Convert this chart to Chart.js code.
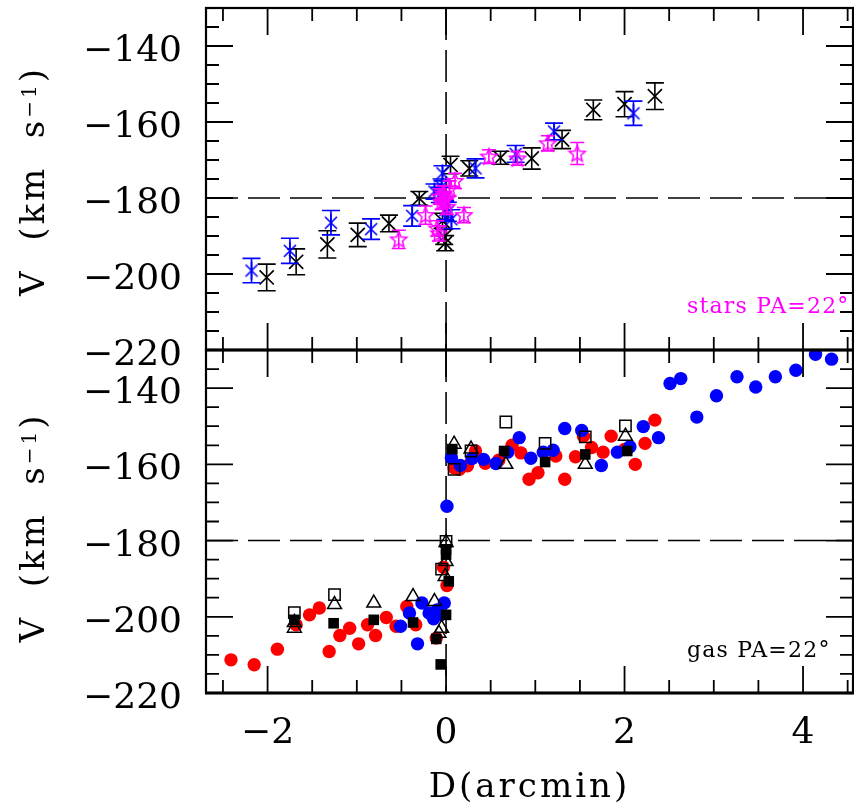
<!DOCTYPE html>
<html lang="en">
<head>
<meta charset="UTF-8">
<title>Velocity profiles PA=22</title>
<script src="https://cdn.jsdelivr.net/npm/chart.js"></script>
<style>
  html, body { margin: 0; padding: 0; background: #fff; }
  #wrap { position: relative; width: 854px; height: 809px; }
  #wrap canvas { position: absolute; left: 0; top: 0; }
</style>
</head>
<body>
<div id="wrap">
  <canvas id="starsChart" width="854" height="809"></canvas>
  <canvas id="gasChart" width="854" height="809"></canvas>
</div>

<script>
// axis setup
const xRange = [-2.69, 4.56];
const vRange = [-220, -130];
const xTicks = [-2, 0, 2, 4];
const vTicks = [-140, -160, -180, -200, -220];

// stellar kinematics (top panel)
const starsBlackD = [-2.01, -1.68, -1.33, -0.99, -0.64, -0.30, -0.04, -0.02, -0.01, 0.05, 0.26, 0.61, 0.96, 1.30, 1.65, 2.00, 2.34];
const starsBlackV = [-200.9, -196.8, -192.2, -189.7, -186.7, -180.1, -186.0, -190.2, -191.9, -171.3, -172.2, -169.4, -169.6, -164.6, -156.8, -155.3, -153.2];
const starsBlackE = [3.5, 3.4, 3.6, 3.1, 2.2, 1.8, 2.0, 2.0, 2.0, 2.3, 2.0, 1.7, 2.8, 2.4, 2.6, 3.3, 3.5];

const starsBlueD = [-2.18, -1.75, -1.29, -0.84, -0.38, -0.13, -0.07, -0.05, -0.04, -0.01, 0.02, 0.06, 0.33, 0.78, 1.21, 2.10];
const starsBlueV = [-199.1, -193.9, -186.5, -188.2, -184.7, -178.3, -179.2, -177.0, -173.5, -183.2, -183.6, -185.6, -172.2, -168.4, -162.5, -157.7];
const starsBlueE = [3.2, 3.3, 3.2, 2.7, 2.7, 2.0, 2.0, 2.0, 2.0, 2.5, 2.5, 2.5, 2.5, 2.2, 2.2, 3.2];

const starsMagD = [-0.53, -0.23, -0.10, -0.08, -0.07, -0.05, -0.03, -0.01, 0.01, 0.04, 0.10, 0.20, 0.48, 0.80, 1.14, 1.47];
const starsMagV = [-190.9, -184.5, -188.0, -189.3, -179.6, -181.0, -178.8, -180.5, -182.3, -177.5, -175.5, -184.5, -169.1, -169.6, -165.6, -168.3];
const starsMagE = [2.4, 2.4, 2.0, 2.0, 2.0, 2.0, 2.0, 2.0, 2.0, 2.0, 2.0, 2.0, 1.8, 1.8, 2.0, 2.9];

// gas kinematics (bottom panel)
const gasRedD = [-2.41, -2.15, -1.89, -1.68, -1.53, -1.42, -1.31, -1.19, -1.08, -0.98, -0.88, -0.79, -0.67, -0.56, -0.44, -0.34, -0.11, -0.03, 0.01,
  0.09, 0.15, 0.24, 0.33, 0.44, 0.59, 0.74, 0.84, 0.93, 1.03, 1.23, 1.33, 1.45, 1.54, 1.63, 1.76, 1.85, 2.00, 2.12, 2.23, 2.34];
const gasRedV = [-211.3, -212.6, -208.5, -202.1, -199.5, -197.7, -209.1, -204.9, -203.0, -207.1, -202.1, -204.9, -200.2, -202.5, -197.3, -202.1, -205.6, -187.0, -191.8,
  -160.9, -161.3, -160.4, -156.5, -159.7, -158.9, -155.0, -157.0, -163.9, -162.2, -157.8, -163.9, -158.0, -152.6, -155.6, -156.8, -152.6, -156.1, -160.0, -154.5, -148.4];

const gasBlueD = [-0.51, -0.41, -0.32, -0.27, -0.19, -0.14, -0.10, -0.06, -0.02, 0.01, 0.06, 0.16, 0.29, 0.42, 0.56, 0.69, 0.82, 0.95,
  1.09, 1.20, 1.33, 1.52, 1.74, 1.92, 2.06, 2.21, 2.38, 2.51, 2.63, 2.81, 3.03, 3.26, 3.47, 3.69, 3.92, 4.14, 4.32];
const gasBlueV = [-202.5, -199.0, -207.1, -196.4, -199.0, -200.5, -198.2, -199.5, -196.4, -171.0, -158.3, -160.3, -158.5, -158.7, -159.8, -156.8, -153.0, -158.4,
  -156.8, -156.3, -150.6, -151.1, -160.3, -156.8, -155.4, -150.1, -153.0, -138.8, -137.5, -147.6, -142.0, -137.0, -139.7, -137.0, -135.3, -131.1, -132.4];

const gasSqD = [-1.70, -1.26, -0.81, -0.37, -0.11, -0.06, 0.00, 0.03, 0.00, 0.00, 0.07, 0.65, 1.11, 1.56, 2.03];
const gasSqV = [-200.8, -201.7, -200.8, -201.5, -205.8, -212.5, -199.5, -190.7, -183.7, -182.3, -156.0, -156.5, -159.4, -157.4, -156.5];

const gasOpenSqD = [-1.70, -1.25, -0.05, 0.00, 0.09, 0.28, 0.67, 1.11, 1.56, 2.01];
const gasOpenSqV = [-198.9, -194.2, -187.5, -180.2, -161.3, -156.5, -148.9, -154.5, -152.8, -149.9];

const gasTriD = [-1.70, -1.70, -1.25, -0.81, -0.37, -0.13, -0.08, -0.05, -0.01, 0.00, 0.00, 0.09, 0.28, 0.67, 1.56, 2.01];
const gasTriV = [-203.0, -201.5, -196.8, -196.4, -194.7, -196.0, -204.3, -203.0, -189.4, -185.5, -180.5, -154.7, -156.0, -160.0, -160.0, -152.6];

const pts = (ds, vs) => ds.map((d, i) => ({ x: d, y: vs[i] }));

// marker images for the stellar data
function asterisk(color) {
  const c = document.createElement('canvas');
  c.width = c.height = 22;
  const g = c.getContext('2d');
  g.strokeStyle = color; g.lineWidth = 1.6;
  g.beginPath();
  g.moveTo(11, 2); g.lineTo(11, 20);
  g.moveTo(5, 5); g.lineTo(17, 17);
  g.moveTo(17, 5); g.lineTo(5, 17);
  g.stroke();
  return c;
}
function openStar(color) {
  const c = document.createElement('canvas');
  c.width = c.height = 22;
  const g = c.getContext('2d');
  g.strokeStyle = color; g.lineWidth = 1.5;
  g.beginPath();
  for (let k = 0; k < 10; k++) {
    const r = k % 2 ? 3.8 : 8.5;
    const a = -Math.PI / 2 + k * Math.PI / 5;
    const px = 11 + r * Math.cos(a), py = 11.5 + r * Math.sin(a);
    k ? g.lineTo(px, py) : g.moveTo(px, py);
  }
  g.closePath();
  g.stroke();
  return c;
}

const fmt = v => String(v).replace('-', '\u2212');
const SERIF = '"DejaVu Serif", serif';

// error bars drawn right after each dataset so layering follows dataset order
const errorBars = {
  id: 'errorBars',
  afterDatasetDraw(chart, args) {
    const ds = chart.data.datasets[args.index];
    if (!ds.errs) return;
    const ctx = chart.ctx, ys = chart.scales.y;
    ctx.save();
    ctx.strokeStyle = ds.errColor;
    ctx.lineWidth = 1.6;
    ctx.beginPath();
    args.meta.data.forEach((pt, i) => {
      const v = ds.data[i].y, e = ds.errs[i];
      const y1 = ys.getPixelForValue(v + e), y2 = ys.getPixelForValue(v - e);
      ctx.moveTo(pt.x, y1); ctx.lineTo(pt.x, y2);
      ctx.moveTo(pt.x - ds.cap, y1); ctx.lineTo(pt.x + ds.cap, y1);
      ctx.moveTo(pt.x - ds.cap, y2); ctx.lineTo(pt.x + ds.cap, y2);
    });
    ctx.stroke();
    ctx.restore();
  }
};

// dashed zero lines, frame, inward ticks and all axis text
const panelFrame = {
  id: 'panelFrame',
  beforeDatasetsDraw(chart) {
    const { ctx, chartArea: a, scales: { x, y } } = chart;
    const x0 = x.getPixelForValue(0), y0 = y.getPixelForValue(-180);
    ctx.save();
    ctx.strokeStyle = '#000';
    ctx.lineWidth = 1.6;
    ctx.setLineDash([32, 10]);
    ctx.beginPath();
    ctx.moveTo(a.left, y0); ctx.lineTo(a.right, y0);
    ctx.moveTo(x0, a.top); ctx.lineTo(x0, a.bottom);
    ctx.stroke();
    ctx.restore();
  },
  afterDraw(chart, args, opts) {
    const { ctx, chartArea: a, scales: { x, y } } = chart;
    ctx.save();
    ctx.strokeStyle = '#000';
    ctx.fillStyle = '#000';
    ctx.lineWidth = 1.8;
    ctx.beginPath();
    for (let v = -220; v <= -130; v += 5) {
      const py = y.getPixelForValue(v), len = v % 20 === 0 ? 27 : 13;
      ctx.moveTo(a.left, py); ctx.lineTo(a.left + len, py);
      ctx.moveTo(a.right, py); ctx.lineTo(a.right - len, py);
    }
    for (let d = -2.5; d <= 4.5; d += 0.5) {
      const px = x.getPixelForValue(d), len = d % 2 === 0 ? 27 : 13;
      ctx.moveTo(px, a.top); ctx.lineTo(px, a.top + len);
      ctx.moveTo(px, a.bottom); ctx.lineTo(px, a.bottom - len);
    }
    ctx.stroke();

    ctx.lineWidth = 2.2;
    ctx.strokeRect(a.left, a.top, a.right - a.left, a.bottom - a.top);
    if (opts.thickEdges) {
      ctx.lineWidth = 3.2;
      ctx.beginPath();
      ctx.moveTo(a.left, a.top); ctx.lineTo(a.right + 2, a.top);
      ctx.moveTo(a.left - 1, a.bottom); ctx.lineTo(a.right + 2, a.bottom);
      ctx.stroke();
    }

    // y tick labels
    ctx.font = '36px ' + SERIF;
    ctx.textAlign = 'right';
    ctx.textBaseline = 'alphabetic';
    vTicks.forEach(v => ctx.fillText(fmt(v), 182, y.getPixelForValue(v) + 15));

    // x tick labels and title
    if (opts.xLabels) {
      ctx.textAlign = 'center';
      xTicks.forEach(d => ctx.fillText(fmt(d), x.getPixelForValue(d), 743));
      ctx.font = '34px ' + SERIF;
      ctx.letterSpacing = '3px';
      ctx.fillText('D(arcmin)', (a.left + a.right) / 2, 797);
      ctx.letterSpacing = '0px';
    }

    // rotated y title with superscript
    ctx.save();
    ctx.translate(44, (a.top + a.bottom) / 2 + opts.titleShift);
    ctx.rotate(-Math.PI / 2);
    ctx.textAlign = 'left';
    ctx.letterSpacing = '3px';
    const big = '34px ' + SERIF, small = '20px ' + SERIF;
    ctx.font = big;
    const wa = ctx.measureText('V  (km  s').width, wb = ctx.measureText(')').width;
    ctx.font = small;
    const ws = ctx.measureText('\u22121').width;
    let u = -(wa + ws + wb) / 2;
    ctx.font = big; ctx.fillText('V  (km  s', u, 0); u += wa;
    ctx.font = small; ctx.fillText('\u22121', u, -8); u += ws;
    ctx.font = big; ctx.fillText(')', u, 0);
    ctx.restore();

    // panel tag
    ctx.font = '22px ' + SERIF;
    ctx.letterSpacing = '1.2px';
    ctx.textAlign = 'left';
    ctx.fillStyle = opts.tagColor;
    ctx.fillText(opts.tag, 687, a.bottom - opts.tagLift);
    ctx.restore();
  }
};

function baseOptions(padding, frameOpts) {
  return {
    responsive: false,
    animation: false,
    events: [],
    layout: { padding, autoPadding: false },
    scales: {
      x: { type: 'linear', min: xRange[0], max: xRange[1], display: false },
      y: { type: 'linear', min: vRange[0], max: vRange[1], display: false }
    },
    plugins: { legend: { display: false }, tooltip: { enabled: false }, panelFrame: frameOpts }
  };
}

new Chart(document.getElementById('starsChart'), {
  type: 'scatter',
  data: {
    datasets: [
      { data: pts(starsMagD, starsMagV), pointStyle: openStar('#ff00ff'), errs: starsMagE, errColor: '#ff00ff', cap: 7 },
      { data: pts(starsBlueD, starsBlueV), pointStyle: asterisk('#0000ff'), errs: starsBlueE, errColor: '#0000ff', cap: 9 },
      { data: pts(starsBlackD, starsBlackV), pointStyle: 'crossRot', pointRadius: 10, borderColor: '#000', borderWidth: 1.7,
        errs: starsBlackE, errColor: '#000', cap: 9 }
    ]
  },
  options: baseOptions({ left: 206, right: 1, top: 8, bottom: 459 },
    { xLabels: false, thickEdges: false, titleShift: 2, tag: 'stars PA=22°', tagColor: '#ff00ff', tagLift: 37 }),
  plugins: [errorBars, panelFrame]
});

new Chart(document.getElementById('gasChart'), {
  type: 'scatter',
  data: {
    datasets: [
      { data: pts(gasSqD, gasSqV), pointStyle: 'rect', pointRadius: 7.5, backgroundColor: '#000', borderColor: '#000', borderWidth: 0 },
      { data: pts(gasOpenSqD, gasOpenSqV), pointStyle: 'rect', pointRadius: 8, backgroundColor: 'rgba(0,0,0,0)', borderColor: '#000', borderWidth: 1.5 },
      { data: pts(gasTriD, gasTriV), pointStyle: 'triangle', pointRadius: 8, backgroundColor: 'rgba(0,0,0,0)', borderColor: '#000', borderWidth: 1.5 },
      { data: pts(gasBlueD, gasBlueV), pointRadius: 6.7, backgroundColor: '#0000ff', borderWidth: 0 },
      { data: pts(gasRedD, gasRedV), pointRadius: 6.7, backgroundColor: '#ff0000', borderWidth: 0 }
    ]
  },
  options: baseOptions({ left: 206, right: 1, top: 350, bottom: 116 },
    { xLabels: true, thickEdges: true, titleShift: 6, tag: 'gas PA=22°', tagColor: '#000', tagLift: 36 }),
  plugins: [panelFrame]
});
</script>
</body>
</html>
